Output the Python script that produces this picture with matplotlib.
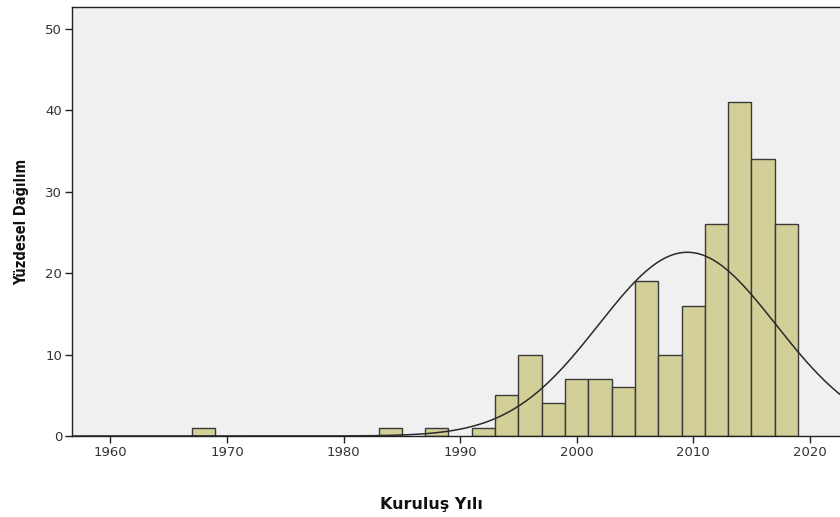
import numpy as np
import matplotlib.pyplot as plt

# bins of 2 years (left edge) and their counts
bin_left = [1967, 1983, 1987, 1991, 1993, 1995, 1997, 1999, 2001, 2003,
            2005, 2007, 2009, 2011, 2013, 2015, 2017]
counts = [1, 1, 1, 1, 5, 10, 4, 7, 7, 6, 19, 10, 16, 26, 41, 34, 26]
bin_width = 2

# fitted normal curve parameters
mean_year = 2009.5
sd_year = 7.6

xticks = [1960, 1970, 1980, 1990, 2000, 2010, 2020]
yticks = [0, 10, 20, 30, 40, 50]

plt.rcParams['font.family'] = ['DejaVu Sans']

fig = plt.figure(figsize=(8.4, 5.17), dpi=100)
ax = fig.add_axes([72 / 840, 81 / 517, 1 - 72 / 840, 429 / 517])
ax.set_facecolor('#f0f0f0')

ax.bar(bin_left, counts, width=bin_width, align='edge',
       color='#d3cf98', edgecolor='#3a3a3a', linewidth=1.0, zorder=2)

n = sum(counts)
xs = np.linspace(1956, 2024, 400)
ys = n * bin_width / (sd_year * np.sqrt(2 * np.pi)) * np.exp(-0.5 * ((xs - mean_year) / sd_year) ** 2)
ax.plot(xs, ys, color='#2a2a2a', linewidth=1.1, zorder=3)

ax.set_xlim(1956.7, 2022.6)
ax.set_ylim(0, 52.7)
ax.set_xticks(xticks)
ax.set_yticks(yticks)
ax.tick_params(direction='out', length=5, width=1, colors='#222222',
               labelsize=9.5, labelcolor='#333333', pad=2)
for s in ['left', 'bottom', 'top']:
    ax.spines[s].set_color('#222222')
    ax.spines[s].set_linewidth(1)
ax.spines['right'].set_visible(False)

ax.set_xlabel('Kuruluş Yılı', fontsize=11.5, fontweight='bold', color='#111111')
ax.xaxis.set_label_coords((431 - 72) / 768, -0.143)
ax.set_ylabel('Yüzdesel Dağılım', fontsize=10.5, fontweight='bold', labelpad=12,
              fontstretch='condensed', color='#111111',
              family=['Liberation Sans Narrow', 'DejaVu Sans'])

fig.savefig('out.png', dpi=100)
